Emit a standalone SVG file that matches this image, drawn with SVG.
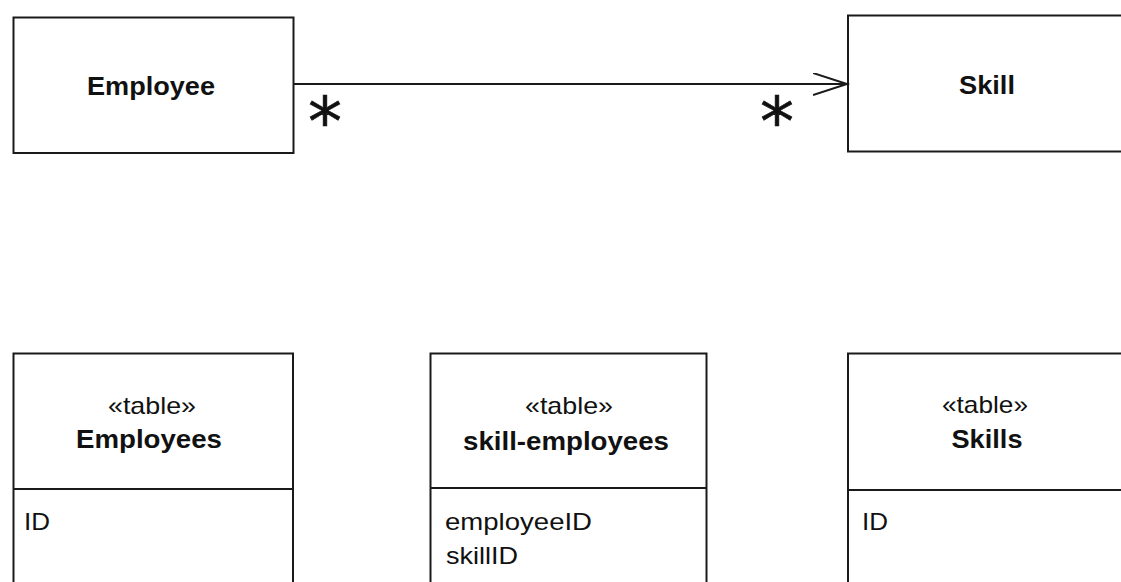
<svg xmlns="http://www.w3.org/2000/svg" width="1121" height="582" viewBox="0 0 1121 582">
<defs>
<style>
.box{fill:#fff;stroke:#1a1a1a;stroke-width:2}
.ln{fill:none;stroke:#1a1a1a;stroke-width:2}
.b{font-family:"Liberation Sans",Arial,sans-serif;font-weight:bold;font-size:25px;fill:#111}
.r{font-family:"Liberation Sans",Arial,sans-serif;font-size:24px;fill:#111}
.ast{font-family:"DejaVu Sans",sans-serif;font-size:68px;fill:#111;stroke:#111;stroke-width:0.6}
.m{text-anchor:middle}
</style>
<marker id="open" markerWidth="40" markerHeight="30" refX="34" refY="11" orient="auto" markerUnits="userSpaceOnUse">
<polyline points="0,0 34,11 0,22" fill="none" stroke="#1a1a1a" stroke-width="2"/>
</marker>
</defs>
<rect width="1121" height="582" fill="#fff"/>
<g id="employee">
<rect class="box" x="13.5" y="17.5" width="280" height="135.5"/>
<text class="b m" x="151" y="95" textLength="128" lengthAdjust="spacingAndGlyphs">Employee</text>
</g>
<g id="skill">
<rect class="box" x="848" y="15.5" width="290" height="136"/>
<text class="b m" x="987" y="94" textLength="56" lengthAdjust="spacingAndGlyphs">Skill</text>
</g>
<g id="connectors">
<line class="ln" x1="293.5" y1="84" x2="847" y2="84" marker-end="url(#open)"/>
<text class="ast m" x="325" y="145">*</text>
<text class="ast m" x="777" y="145">*</text>
</g>
<g id="employees-table">
<rect class="box" x="13.5" y="353.5" width="279.5" height="240"/>
<line class="ln" x1="13.5" y1="489" x2="293" y2="489"/>
<text class="r m" x="152" y="414" textLength="88" lengthAdjust="spacingAndGlyphs">«table»</text>
<text class="b m" x="149" y="448" textLength="146" lengthAdjust="spacingAndGlyphs">Employees</text>
<text class="r" x="24" y="530" textLength="26" lengthAdjust="spacingAndGlyphs">ID</text>
</g>
<g id="skill-employees-table">
<rect class="box" x="430.5" y="353.5" width="276" height="240"/>
<line class="ln" x1="430.5" y1="488" x2="706.5" y2="488"/>
<text class="r m" x="569" y="414" textLength="88" lengthAdjust="spacingAndGlyphs">«table»</text>
<text class="b m" x="566" y="450" textLength="206" lengthAdjust="spacingAndGlyphs">skill-employees</text>
<text class="r" x="445" y="530" textLength="147" lengthAdjust="spacingAndGlyphs">employeeID</text>
<text class="r" x="446" y="564" textLength="72" lengthAdjust="spacingAndGlyphs">skillID</text>
</g>
<g id="skills-table">
<rect class="box" x="848" y="353.5" width="290" height="240"/>
<line class="ln" x1="848" y1="490" x2="1138" y2="490"/>
<text class="r m" x="985" y="413" textLength="86" lengthAdjust="spacingAndGlyphs">«table»</text>
<text class="b m" x="987" y="448" textLength="71" lengthAdjust="spacingAndGlyphs">Skills</text>
<text class="r" x="862" y="530" textLength="26" lengthAdjust="spacingAndGlyphs">ID</text>
</g>
</svg>
